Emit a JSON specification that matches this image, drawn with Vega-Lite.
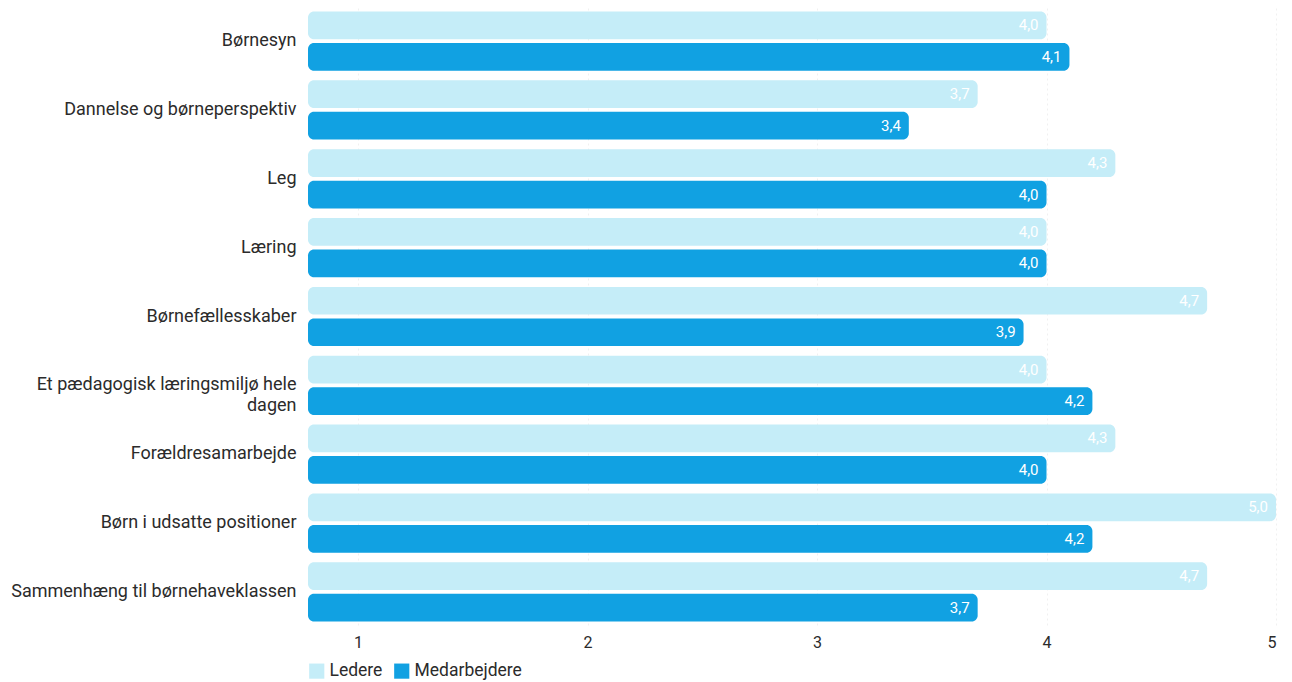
{
  "$schema": "https://vega.github.io/schema/vega-lite/v6.json",
  "width": 968,
  "height": 617,
  "padding": {"left": 10, "top": 8, "right": 16, "bottom": 5},
  "background": "white",
  "config": {
    "font": "Roboto",
    "view": {"stroke": null},
    "locale": {"number": {"decimal": ",", "thousands": ".", "grouping": [3], "currency": ["", " kr."]}}
  },
  "data": {
    "values": [
      {"kategori": "Børnesyn", "gruppe": "Ledere", "værdi": 4.0},
      {"kategori": "Børnesyn", "gruppe": "Medarbejdere", "værdi": 4.1},
      {"kategori": "Dannelse og børneperspektiv", "gruppe": "Ledere", "værdi": 3.7},
      {"kategori": "Dannelse og børneperspektiv", "gruppe": "Medarbejdere", "værdi": 3.4},
      {"kategori": "Leg", "gruppe": "Ledere", "værdi": 4.3},
      {"kategori": "Leg", "gruppe": "Medarbejdere", "værdi": 4.0},
      {"kategori": "Læring", "gruppe": "Ledere", "værdi": 4.0},
      {"kategori": "Læring", "gruppe": "Medarbejdere", "værdi": 4.0},
      {"kategori": "Børnefællesskaber", "gruppe": "Ledere", "værdi": 4.7},
      {"kategori": "Børnefællesskaber", "gruppe": "Medarbejdere", "værdi": 3.9},
      {"kategori": "Et pædagogisk læringsmiljø hele dagen", "gruppe": "Ledere", "værdi": 4.0},
      {"kategori": "Et pædagogisk læringsmiljø hele dagen", "gruppe": "Medarbejdere", "værdi": 4.2},
      {"kategori": "Forældresamarbejde", "gruppe": "Ledere", "værdi": 4.3},
      {"kategori": "Forældresamarbejde", "gruppe": "Medarbejdere", "værdi": 4.0},
      {"kategori": "Børn i udsatte positioner", "gruppe": "Ledere", "værdi": 5.0},
      {"kategori": "Børn i udsatte positioner", "gruppe": "Medarbejdere", "værdi": 4.2},
      {"kategori": "Sammenhæng til børnehaveklassen", "gruppe": "Ledere", "værdi": 4.7},
      {"kategori": "Sammenhæng til børnehaveklassen", "gruppe": "Medarbejdere", "værdi": 3.7}
    ]
  },
  "encoding": {
    "y": {
      "field": "kategori",
      "type": "nominal",
      "sort": null,
      "scale": {"paddingInner": 0.14, "paddingOuter": 0.05},
      "axis": {
        "title": null,
        "ticks": false,
        "domain": false,
        "labelFontSize": 18,
        "labelColor": "#2b2b2b",
        "labelPadding": 12,
        "labelLimit": 340,
        "labelLineHeight": 21,
        "labelExpr": "datum.label == 'Et pædagogisk læringsmiljø hele dagen' ? ['Et pædagogisk læringsmiljø hele', 'dagen'] : datum.label"
      }
    },
    "yOffset": {"field": "gruppe", "type": "nominal", "scale": {"paddingInner": 0.12}},
    "x": {
      "field": "værdi",
      "type": "quantitative",
      "scale": {"domain": [0.782, 5], "zero": false, "nice": false, "clamp": true},
      "axis": {
        "title": null,
        "values": [1, 2, 3, 4, 5],
        "format": "d",
        "ticks": false,
        "domain": false,
        "grid": true,
        "gridColor": "#e6e6e6",
        "gridDash": [2, 3],
        "gridOpacity": 0.6,
        "labelFontSize": 16,
        "labelColor": "#2b2b2b",
        "labelPadding": 9
      }
    }
  },
  "layer": [
    {
      "mark": {"type": "bar", "cornerRadiusEnd": 6},
      "encoding": {
        "x2": {"datum": 0.782},
        "color": {
          "field": "gruppe",
          "type": "nominal",
          "scale": {"domain": ["Ledere", "Medarbejdere"], "range": ["#c5edf8", "#11a1e2"]},
          "legend": {
            "title": null,
            "orient": "bottom",
            "direction": "horizontal",
            "symbolType": "square",
            "symbolSize": 230,
            "labelFontSize": 17.5,
            "labelColor": "#2b2b2b",
            "columnPadding": 10,
            "offset": 12
          }
        }
      }
    },
    {
      "mark": {"type": "text", "align": "right", "dx": -8, "color": "white", "fontSize": 15},
      "encoding": {
        "text": {"field": "værdi", "type": "quantitative", "format": ".1f"}
      }
    }
  ]
}
